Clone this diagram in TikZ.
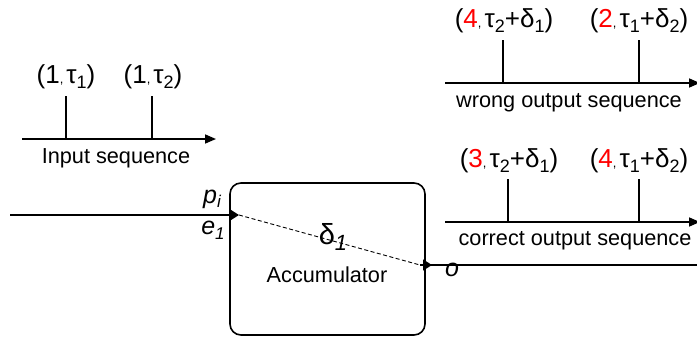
\documentclass[tikz,border=0pt]{standalone}
\usepackage{fontspec}
\setmainfont{Liberation Sans}
\usetikzlibrary{arrows.meta}
\begin{document}
\begin{tikzpicture}[x=1pt,y=1pt,
  thick line/.style={line width=1.6pt},
  axisline/.style={thick line,-{Triangle[length=11pt,width=9pt]}},
  tickline/.style={line width=1.6pt},
  lbl/.style={inner sep=0pt,font=\fontsize{26}{28}\selectfont},
  captxt/.style={inner sep=0pt,font=\fontsize{21.7}{23}\selectfont},
  mathlbl/.style={inner sep=0pt,font=\fontsize{25}{27}\selectfont\itshape},
]
\useasboundingbox (0,0) rectangle (697,-338);
\newcommand{\sm}[1]{\raisebox{-0.35ex}{\fontsize{18}{19}\selectfont #1}}
\newcommand{\cm}{{\fontsize{13}{13}\selectfont,}\kern3pt}
% input sequence
\coordinate (ia) at (22,-139);
\coordinate (ib) at (216,-139);
\coordinate (it1b) at (66,-139); \coordinate (it1t) at (66,-96);
\coordinate (it2b) at (152,-139); \coordinate (it2t) at (152,-96);
\draw[axisline] (ia) -- (ib);
\draw[tickline] (it1b) -- (it1t);
\draw[tickline] (it2b) -- (it2t);
\node[lbl] (il1) at (66,-77) {(1\cm τ\sm{1})};
\node[lbl] (il2) at (153,-77) {(1\cm τ\sm{2})};
\node[captxt] (icap) at (116,-158) {Input sequence};
% wrong output sequence
\coordinate (wa) at (445,-83);
\coordinate (wb) at (700,-83);
\coordinate (wt1b) at (503,-83); \coordinate (wt1t) at (503,-40);
\coordinate (wt2b) at (639,-83); \coordinate (wt2t) at (639,-40);
\draw[axisline] (wa) -- (wb);
\draw[tickline] (wt1b) -- (wt1t);
\draw[tickline] (wt2b) -- (wt2t);
\node[lbl] (wl1) at (504,-21) {(\textcolor{red}{4}\cm τ\sm{2}+δ\sm{1})};
\node[lbl] (wl2) at (639,-21) {(\textcolor{red}{2}\cm τ\sm{1}+δ\sm{2})};
\node[captxt] (wcap) at (569,-103) {wrong output sequence};
% correct output sequence
\coordinate (ca) at (445,-222);
\coordinate (cb) at (700,-222);
\coordinate (ct1b) at (508,-222); \coordinate (ct1t) at (508,-179);
\coordinate (ct2b) at (639,-222); \coordinate (ct2t) at (639,-179);
\draw[axisline] (ca) -- (cb);
\draw[tickline] (ct1b) -- (ct1t);
\draw[tickline] (ct2b) -- (ct2t);
\node[lbl] (cl1) at (509,-161) {(\textcolor{red}{3}\cm τ\sm{2}+δ\sm{1})};
\node[lbl] (cl2) at (639,-161) {(\textcolor{red}{4}\cm τ\sm{1}+δ\sm{2})};
\node[captxt] (ccap) at (575,-241) {correct output sequence};
% accumulator
\draw[thick line,rounded corners=11pt] (230,-183) rectangle (425,-335);
\node[captxt] (acc) at (327,-275) {Accumulator};
\coordinate (inA) at (10,-215);
\coordinate (inB) at (239,-215);
\draw[thick line,-{Triangle[length=9pt,width=11pt]}] (inA) -- (inB);
\coordinate (oA) at (420,-265);
\coordinate (oB) at (432,-265);
\coordinate (oC) at (697,-265);
\draw[thick line] (oA) -- (oC);
\draw[thick line,-{Triangle[length=9pt,width=11pt]}] (oA) -- (oB);
\draw[line width=0.9pt,dash pattern=on 4pt off 2.5pt] (inB) -- (oA);
\node[inner sep=0pt,font=\fontsize{29}{30}\selectfont] (delta) at (333,-237) {δ\raisebox{-0.45ex}{\fontsize{22}{22}\selectfont\itshape 1}};
\node[mathlbl] (pi) at (212,-199) {p\raisebox{-0.35ex}{\fontsize{17}{18}\selectfont i}};
\node[mathlbl] (e1) at (213,-230) {e\raisebox{-0.35ex}{\fontsize{17}{18}\selectfont 1}};
\node[mathlbl] (o) at (452,-270) {o};
\end{tikzpicture}
\end{document}
